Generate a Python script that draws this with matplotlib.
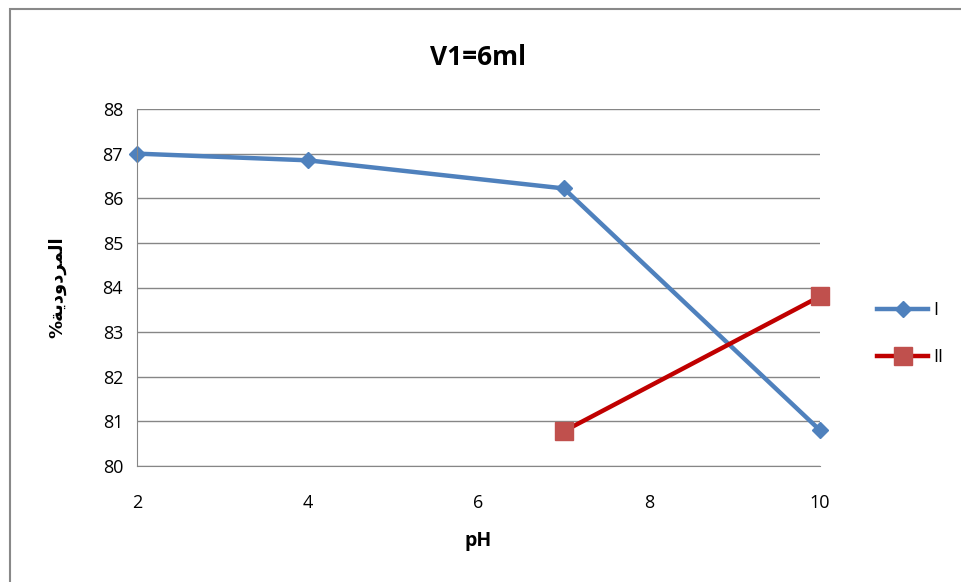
import matplotlib
matplotlib.use("Agg")
from matplotlib import pyplot as plt
from matplotlib.patches import Rectangle

plt.rcParams["font.family"] = ["Open Sans", "DejaVu Sans"]

# data
ph_1 = [2, 4, 7, 10]
yield_1 = [87.0, 86.85, 86.22, 80.8]
ph_2 = [7, 10]
yield_2 = [80.78, 83.8]
series_names = ["I", "II"]

# Arabic label, written in shaped (presentation) forms in visual order
ylabel = "%\ufe94\ufef3\ufea9\ufeed\ufea9\ufeae\ufee4\ufedf\ufe8d"

fig = plt.figure(figsize=(9.61, 5.82), dpi=100)
fig.patches.append(Rectangle((10/961, -0.1), 1.2, (582-9)/582 + 0.1, transform=fig.transFigure,
                             fill=False, edgecolor="#898989", linewidth=1.5))
ax = fig.add_axes([137/961, 116/582, (820-137)/961, (466-109)/582])

ax.plot(ph_1, yield_1, color="#4F81BD", linewidth=3.2, marker="D", markersize=8,
        markerfacecolor="#4F81BD", markeredgecolor="#4F81BD", label=series_names[0], clip_on=False)
ax.plot(ph_2, yield_2, color="#C00000", linewidth=3.2, marker="s", markersize=13,
        markerfacecolor="#C0504D", markeredgecolor="#C0504D", label=series_names[1], clip_on=False)

ax.set_xlim(2, 10)
ax.set_ylim(80, 88)
ax.set_xticks([2, 4, 6, 8, 10])
ax.set_yticks(range(80, 89))
ax.yaxis.grid(True, color="#868686", linewidth=1)
ax.set_axisbelow(True)
for s in ["top", "right"]:
    ax.spines[s].set_visible(False)
for s in ["left", "bottom"]:
    ax.spines[s].set_color("#868686")
ax.tick_params(axis="both", length=0, labelsize=13, pad=10)
ax.tick_params(axis="x", pad=20)

ax.set_title("V1=6ml", fontsize=19, fontweight="bold", pad=32)
ax.set_xlabel("pH", fontsize=14, fontweight="bold", labelpad=14)
ax.set_ylabel(ylabel, fontsize=13, fontweight="bold", family=["DejaVu Sans"], labelpad=26)

ax.legend(loc="center left", bbox_to_anchor=(1.06, 0.37), frameon=False, fontsize=13,
          handlelength=2.8, labelspacing=1.6, handletextpad=0.3)

fig.savefig("out.png", dpi=100)
